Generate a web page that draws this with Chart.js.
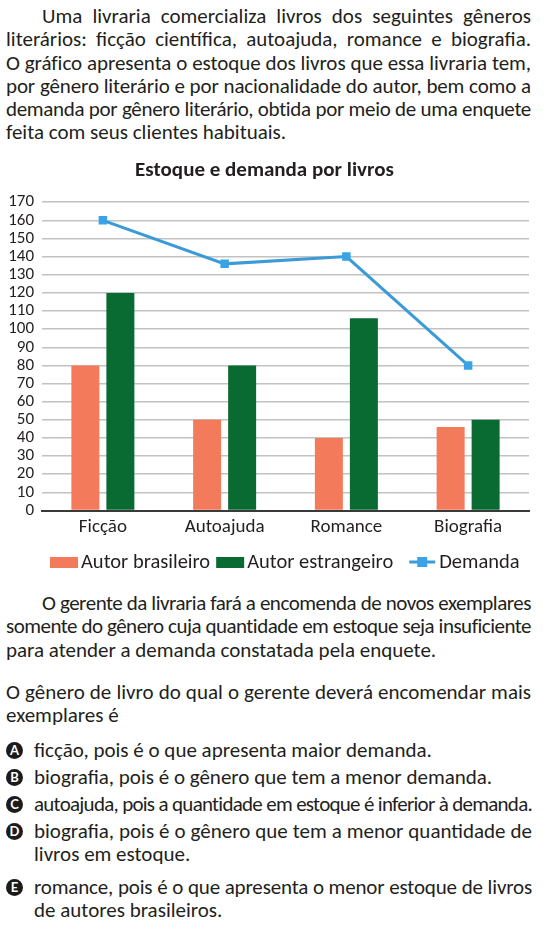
<!DOCTYPE html>
<html><head><meta charset="utf-8">
<script src="https://cdn.jsdelivr.net/npm/chart.js@4.4.0/dist/chart.umd.min.js"></script>
<style>
body{margin:0;width:549px;height:930px;background:#fff;font-family:Carlito,Lato,"Noto Sans",sans-serif;color:#231f20;position:relative;overflow:hidden}
.blk{position:absolute;left:6px;width:525px;font-size:21px;line-height:23.3px}
.l{text-align:justify;text-align-last:justify;white-space:nowrap}
.e{text-align:left;white-space:nowrap}
.ind{padding-left:36px}
#cw{position:absolute;left:0;top:155px;width:549px;height:425px}
.opt{position:absolute;left:6px;width:526px;font-size:21px;line-height:23.3px}
.ic{position:absolute;left:0;top:3px;width:17px;height:17px;border-radius:50%;background:#1b1b1b;color:#fff;font:bold 13px/17px Lato,sans-serif;text-align:center}
.ot{margin-left:28px}
</style></head>
<body>
<div class="blk" style="top:5px">
<div class="l ind">Uma livraria comercializa livros dos seguintes gêneros</div>
<div class="l">literários: ficção científica, autoajuda, romance e biografia.</div>
<div class="l">O gráfico apresenta o estoque dos livros que essa livraria tem,</div>
<div class="l">por gênero literário e por nacionalidade do autor, bem como a</div>
<div class="l">demanda por gênero literário, obtida por meio de uma enquete</div>
<div class="e">feita com seus clientes habituais.</div>
</div>
<div id="cw"><canvas id="c"></canvas></div>
<div class="blk" style="top:592px">
<div class="l ind">O gerente da livraria fará a encomenda de novos exemplares</div>
<div class="l">somente do gênero cuja quantidade em estoque seja insuficiente</div>
<div class="e">para atender a demanda constatada pela enquete.</div>
</div>
<div class="blk" style="top:681px">
<div class="l">O gênero de livro do qual o gerente deverá encomendar mais</div>
<div class="e">exemplares é</div>
</div>
<div class="opt" style="top:739px"><span class="ic">A</span><div class="ot e">ficção, pois é o que apresenta maior demanda.</div></div>
<div class="opt" style="top:766px"><span class="ic">B</span><div class="ot e">biografia, pois é o gênero que tem a menor demanda.</div></div>
<div class="opt" style="top:793px"><span class="ic">C</span><div class="ot l">autoajuda, pois a quantidade em estoque é inferior à demanda.</div></div>
<div class="opt" style="top:820px"><span class="ic">D</span><div class="ot"><div class="l">biografia, pois é o gênero que tem a menor quantidade de</div><div class="e">livros em estoque.</div></div></div>
<div class="opt" style="top:876px"><span class="ic">E</span><div class="ot"><div class="l">romance, pois é o que apresenta o menor estoque de livros</div><div class="e">de autores brasileiros.</div></div></div>
<script>
const categories = ['Ficção', 'Autoajuda', 'Romance', 'Biografia'];
const autorBrasileiro = [80, 50, 40, 46];
const autorEstrangeiro = [120, 80, 106, 50];
const demanda = [160, 136, 140, 80];
const seriesNames = ['Autor brasileiro', 'Autor estrangeiro', 'Demanda'];
const chartTitle = 'Estoque e demanda por livros';
const yMin = 0, yMax = 170, yStep = 10;

// fit each text line into its box (text is narrower in the original typeface)
document.querySelectorAll('.l, .e').forEach(el => {
  const txt = el.textContent;
  el.innerHTML = '<span>' + txt + '</span>';
  const cs = getComputedStyle(el);
  const avail = el.clientWidth - parseFloat(cs.paddingLeft) - parseFloat(cs.paddingRight);
  const prevA = el.style.textAlign, prevL = el.style.textAlignLast;
  el.style.textAlign = 'left'; el.style.textAlignLast = 'left';
  const w = el.firstChild.getBoundingClientRect().width;
  el.style.textAlign = prevA; el.style.textAlignLast = prevL;
  if (w > avail - 1) {
    el.style.letterSpacing = (-(w - avail + 2) / txt.length) + 'px';
  }
});

const FONT = 'Carlito, Lato, "Noto Sans", sans-serif';
const ORANGE = '#F47A5C', GREEN = '#0A6B32', BLUE = '#3B9AD8', BLUEM = '#3AA3E6';

const legendPlugin = {
  id: 'customLegend',
  afterDraw(chart) {
    const ctx = chart.ctx;
    const y = 407;
    ctx.save();
    ctx.font = '20.5px ' + FONT;
    ctx.textBaseline = 'middle';
    ctx.fillStyle = '#231f20';
    let x = 50;
    const ds = chart.data.datasets;
    ds.forEach((d, i) => {
      if (d.type === 'line') {
        x += 10;
        ctx.strokeStyle = d.borderColor;
        ctx.lineWidth = 3;
        ctx.beginPath(); ctx.moveTo(x, y); ctx.lineTo(x + 26, y); ctx.stroke();
        ctx.fillStyle = d.pointBackgroundColor;
        ctx.fillRect(x + 8, y - 5, 10, 10);
        x += 30;
      } else {
        ctx.fillStyle = d.backgroundColor;
        ctx.fillRect(x, y - 5, 28, 11);
        x += 31;
      }
      ctx.fillStyle = '#231f20';
      ctx.fillText(d.label, x, y + 1);
      x += ctx.measureText(d.label).width + 6;
    });
    ctx.restore();
  }
};

new Chart(document.getElementById('c'), {
  type: 'bar',
  data: {
    labels: categories,
    datasets: [
      { label: seriesNames[0], data: autorBrasileiro, backgroundColor: ORANGE, order: 2,
        categoryPercentage: 0.575, barPercentage: 0.8 },
      { label: seriesNames[1], data: autorEstrangeiro, backgroundColor: GREEN, order: 2,
        categoryPercentage: 0.575, barPercentage: 0.8 },
      { label: seriesNames[2], data: demanda, type: 'line', order: 0,
        borderColor: BLUE, borderWidth: 3, pointStyle: 'rect', pointRadius: 6,
        pointBackgroundColor: BLUEM, pointBorderColor: BLUEM, pointBorderWidth: 0, tension: 0 }
    ]
  },
  options: {
    responsive: true, maintainAspectRatio: false, animation: false,
    layout: { padding: { top: 0, right: 20, bottom: 39.5, left: 0 } },
    plugins: {
      legend: { display: false },
      tooltip: { enabled: false },
      title: { display: true, text: chartTitle, color: '#231f20',
        font: { family: FONT, size: 21, weight: 'bold' }, padding: { top: 3, bottom: 19 } }
    },
    scales: {
      x: {
        grid: { display: false, drawTicks: false },
        border: { display: true, color: '#3a3a3a', width: 2 },
        ticks: { color: '#231f20', font: { family: FONT, size: 19 }, padding: 5 },
        afterFit(s) { s.height = 30; }
      },
      y: {
        min: yMin, max: yMax,
        grid: { color: '#c2c2c2', lineWidth: 1.5, drawTicks: false },
        border: { display: false },
        ticks: { stepSize: yStep, autoSkip: false, color: '#231f20', font: { family: FONT, size: 17 }, padding: 8 },
        afterFit(s) { s.width = 42; }
      }
    }
  },
  plugins: [legendPlugin]
});
</script>
</body></html>
